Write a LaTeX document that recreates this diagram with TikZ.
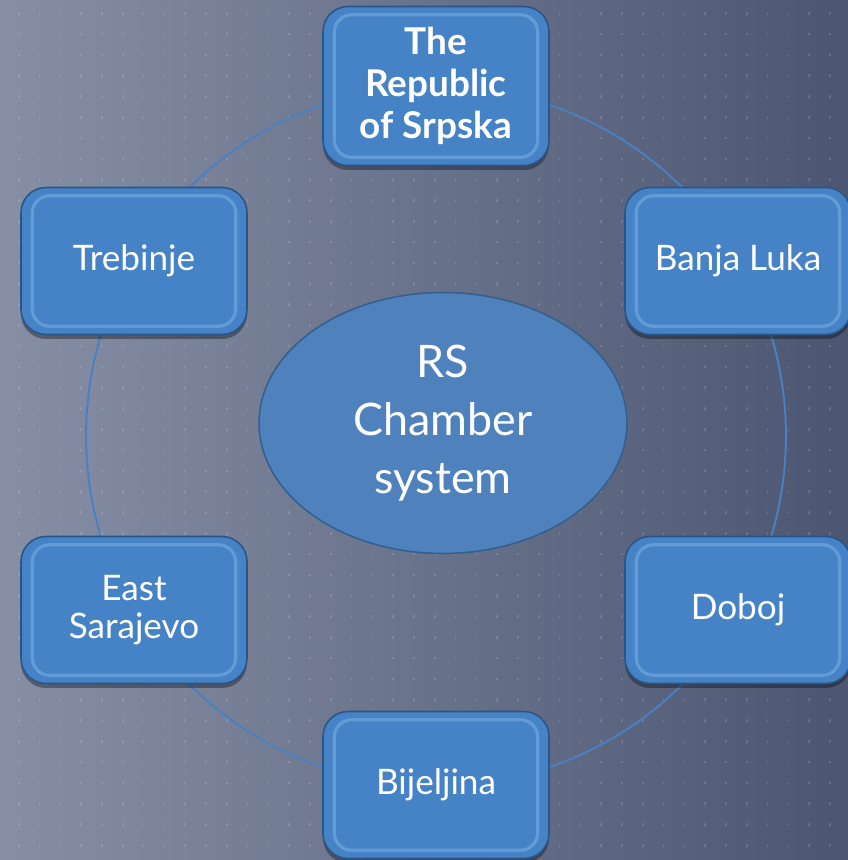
\documentclass[tikz,border=0pt]{standalone}
\usepackage{fontspec}
\setmainfont{Lato}
\usetikzlibrary{shadows,calc,shapes.geometric}
\definecolor{bgL}{HTML}{868FA4}
\definecolor{bgR}{HTML}{4C5672}
\definecolor{boxfill}{HTML}{4683C6}
\definecolor{boxedge}{HTML}{2B5586}
\definecolor{bevelc}{HTML}{8CC0F0}
\definecolor{ringc}{HTML}{4A80C2}
\definecolor{ellfill}{HTML}{4F81BD}
\definecolor{elledge}{HTML}{34608F}
\begin{document}
\begin{tikzpicture}[x=0.02cm,y=-0.02cm,
  citybox/.style={draw=boxedge, line width=0.9pt, fill=boxfill, rounded corners=0.5cm,
    minimum width=4.52cm, minimum height=2.94cm, align=center, text=white,
    font=\fontsize{20}{21.5}\selectfont,
    drop shadow={shadow xshift=0cm, shadow yshift=-0.09cm, opacity=0.35, fill=black}},
  bevel/.style={draw=bevelc, line width=1.8pt, opacity=0.4, rounded corners=0.35cm},
  hub/.style={ellipse, draw=elledge, line width=0.9pt, fill=ellfill, minimum width=7.36cm,
    minimum height=5.22cm, align=center, text=white, font=\fontsize{25.5}{33}\selectfont},
  ring/.style={draw=ringc, line width=1.1pt}]
\useasboundingbox (0,0) rectangle (848,860);
\shade[left color=bgL, right color=bgR] (0,0) rectangle (848,860);
\foreach \i in {0,...,40}{
  \foreach \j in {0,...,41}{
    \fill[white, opacity=0.14] (18+\i*20.8,12+\j*20.8) rectangle ++(1.6,2.6);
  }
}
\coordinate (c) at (436,436);
\draw[ring] (c) circle (7cm);
\node[hub] (hub) at (443,423) {RS\\Chamber\\system};
\node[citybox, minimum height=3.18cm, font=\bfseries\fontsize{21}{23.8}\selectfont] (top) at (436,86) {The\\Republic\\of Srpska};
\node[citybox] (banja) at (738,261) {Banja Luka};
\node[citybox] (doboj) at (738,610) {Doboj};
\node[citybox] (bij) at (436,785) {Bijeljina};
\node[citybox] (east) at (134,610) {East\\Sarajevo};
\node[citybox] (treb) at (134,261) {Trebinje};
\foreach \n in {top,banja,doboj,bij,east,treb}{
  \draw[bevel] ($(\n.north west)+(12,9)$) rectangle ($(\n.south east)+(-12,-9)$);
}
\end{tikzpicture}
\end{document}
